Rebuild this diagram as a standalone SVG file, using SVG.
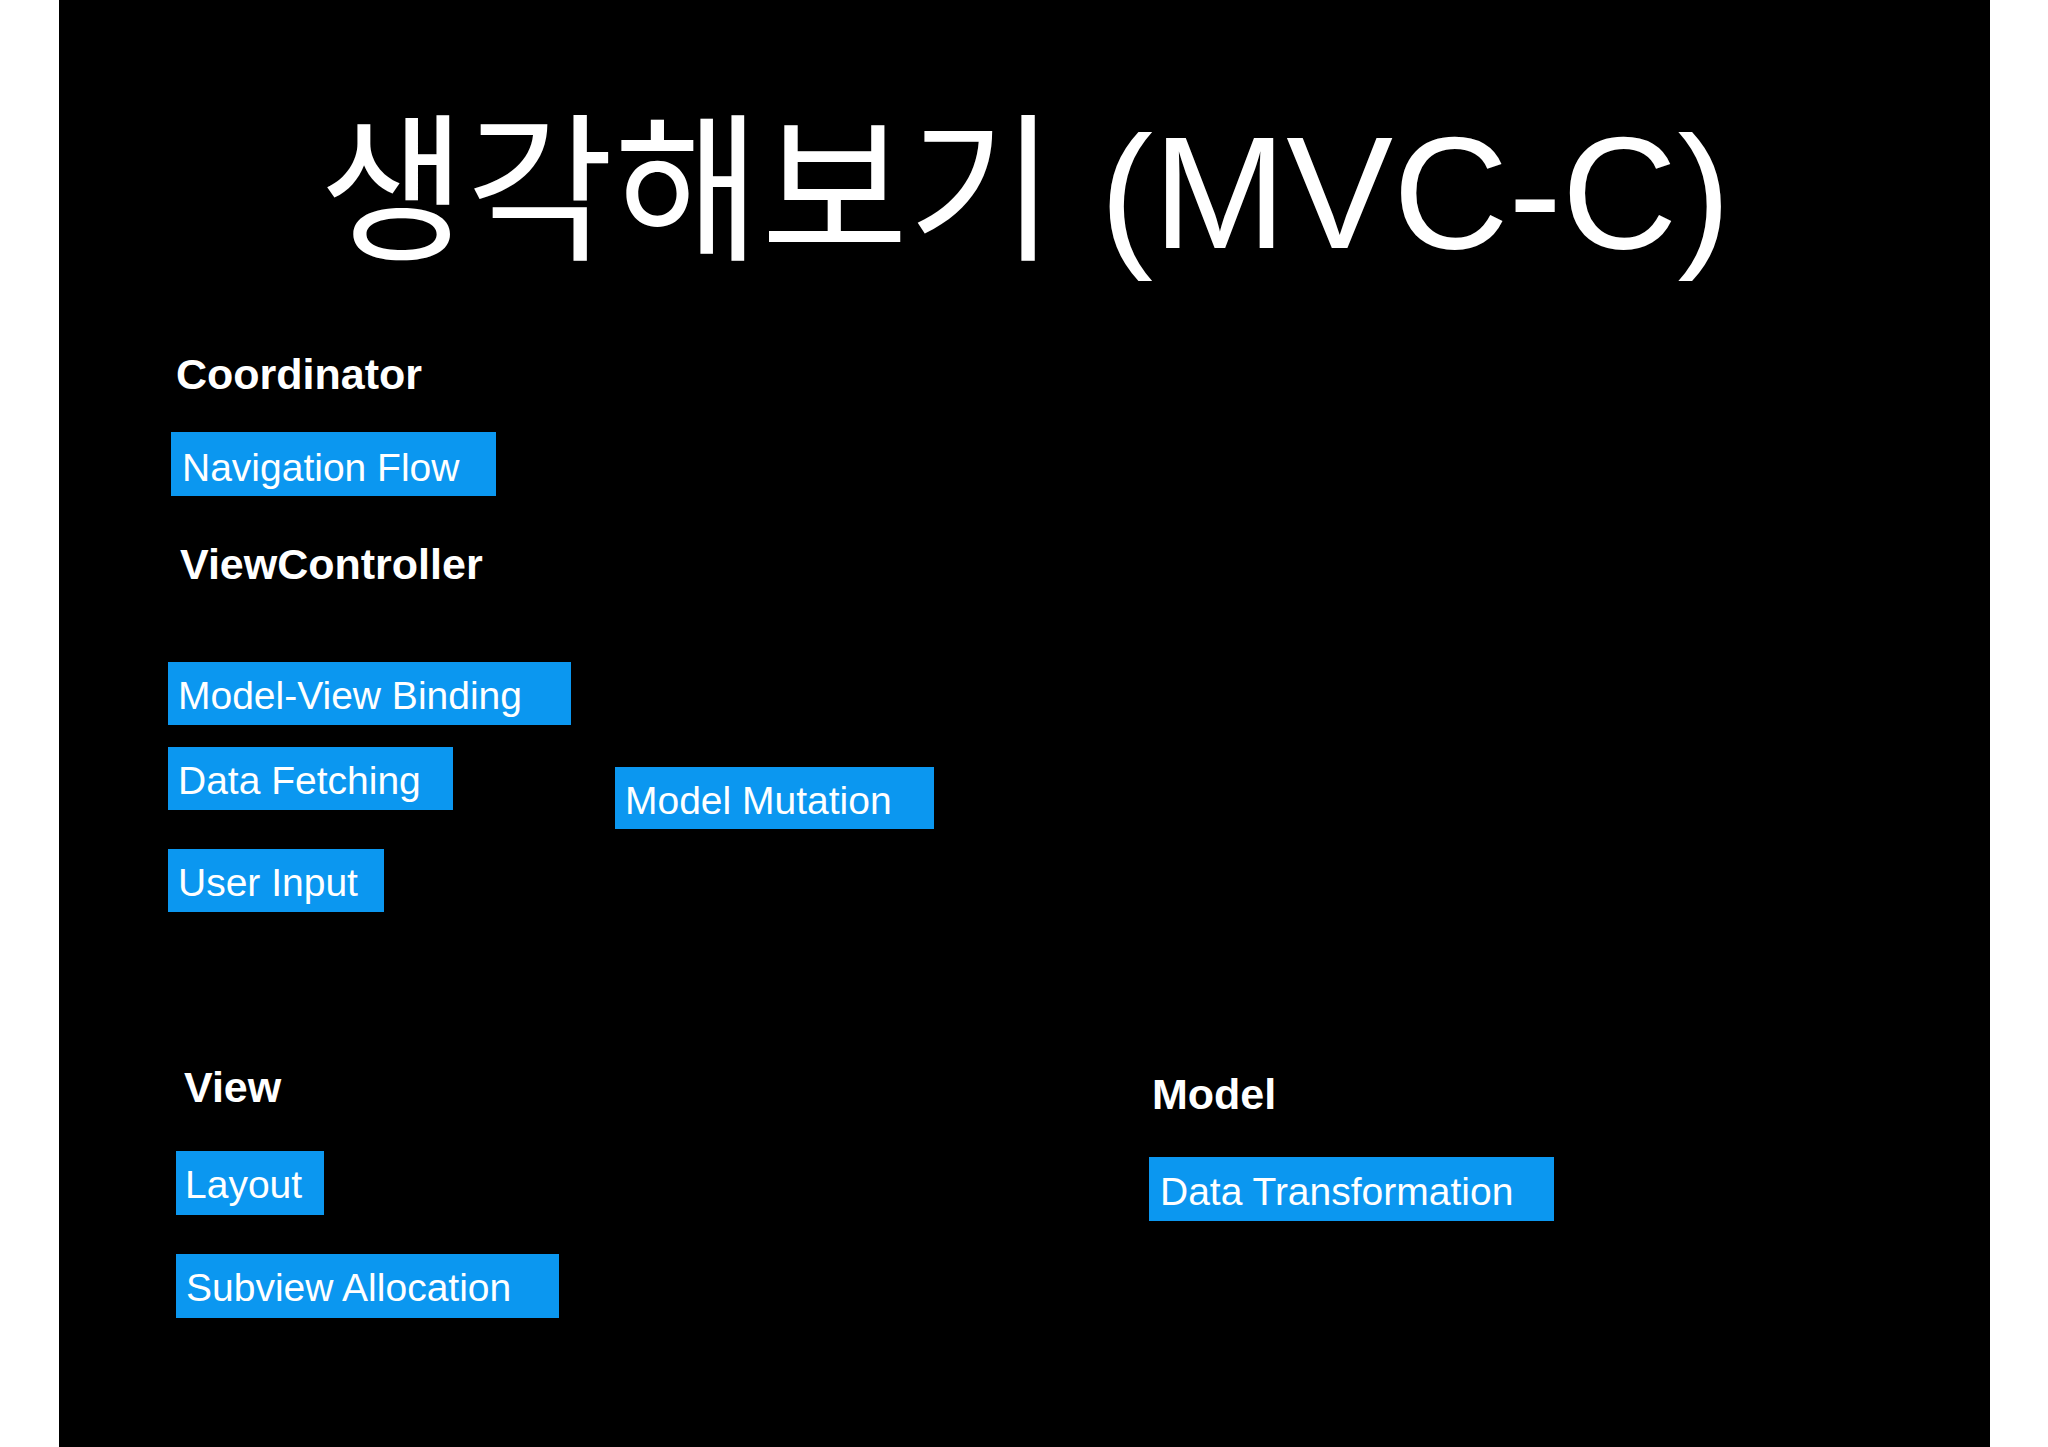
<svg xmlns="http://www.w3.org/2000/svg" width="2048" height="1447" viewBox="0 0 2048 1447">
<style>
.h{font-family:"Liberation Sans",Arial,sans-serif;font-weight:bold;font-size:43px;fill:#fff}
.b{fill:#0b97f0}
.t{font-family:"Liberation Sans",Arial,sans-serif;font-size:39px;fill:#fff}
</style>
<rect width="2048" height="1447" fill="#fff"/>
<rect x="59" y="0" width="1931" height="1447" fill="#000"/>
<text x="1025" y="248" text-anchor="middle" font-family="'Liberation Sans','Noto Sans CJK KR',sans-serif" font-size="160" fill="#fff">생각해보기 (MVC-C)</text>
<g id="coordinator"><text class="h" x="176" y="389">Coordinator</text></g>
<g id="navflow"><rect class="b" x="171" y="432" width="325" height="64"/><text class="t" x="182" y="481">Navigation Flow</text></g>
<g id="viewcontroller"><text class="h" x="180" y="579">ViewController</text></g>
<g id="mvbinding"><rect class="b" x="168" y="662" width="403" height="63"/><text class="t" x="178" y="709">Model-View Binding</text></g>
<g id="datafetch"><rect class="b" x="168" y="747" width="285" height="63"/><text class="t" x="178" y="794">Data Fetching</text></g>
<g id="mutation"><rect class="b" x="615" y="767" width="319" height="62"/><text class="t" x="625" y="814">Model Mutation</text></g>
<g id="userinput"><rect class="b" x="168" y="849" width="216" height="63"/><text class="t" x="178" y="896">User Input</text></g>
<g id="view"><text class="h" x="184" y="1102">View</text></g>
<g id="model"><text class="h" x="1152" y="1109">Model</text></g>
<g id="layout"><rect class="b" x="176" y="1151" width="148" height="64"/><text class="t" x="185" y="1198">Layout</text></g>
<g id="subview"><rect class="b" x="176" y="1254" width="383" height="64"/><text class="t" x="186" y="1301">Subview Allocation</text></g>
<g id="datatrans"><rect class="b" x="1149" y="1157" width="405" height="64"/><text class="t" x="1160" y="1205">Data Transformation</text></g>
<g id="connectors"/>
</svg>
